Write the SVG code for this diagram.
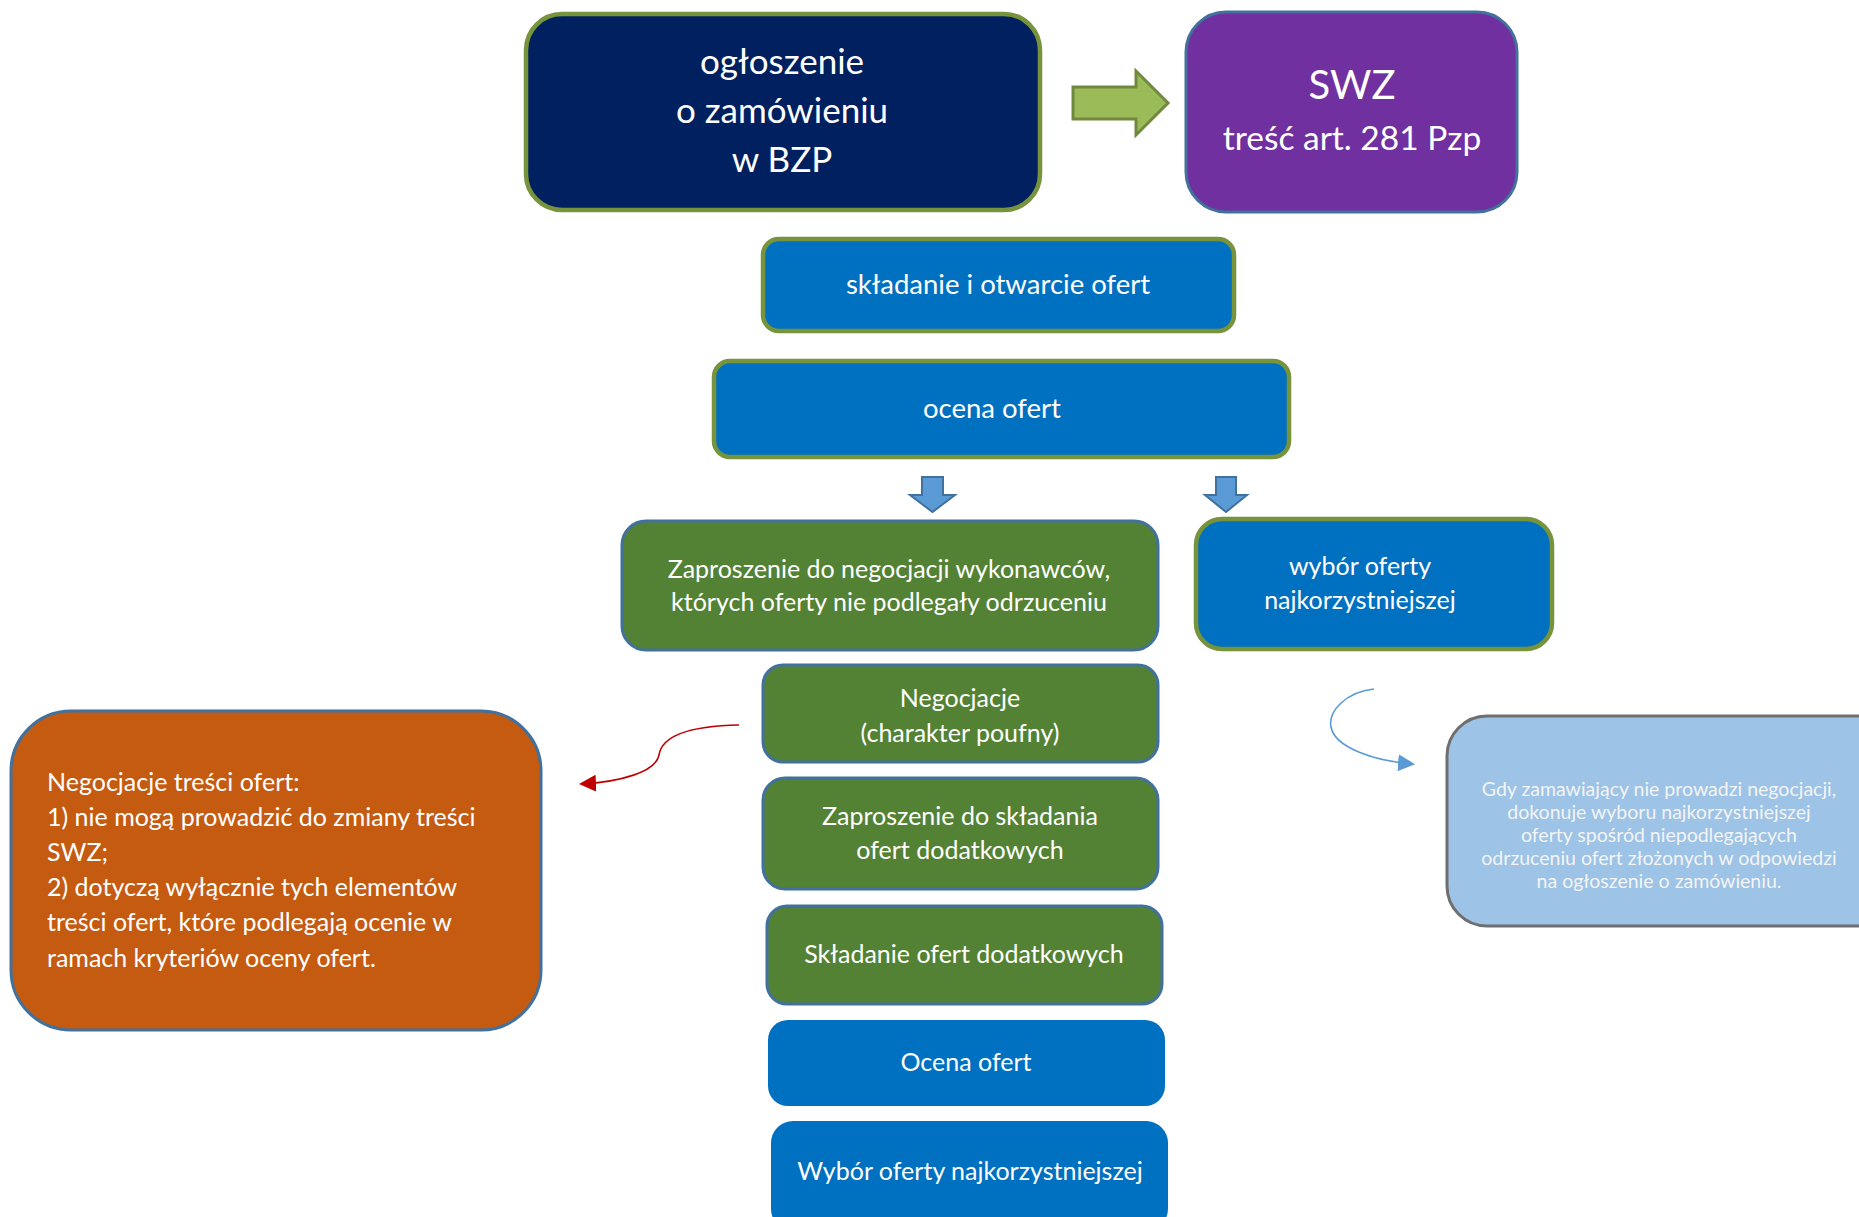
<svg xmlns="http://www.w3.org/2000/svg" width="1859" height="1217" viewBox="0 0 1859 1217">
<style>
text{font-family:Lato,"Liberation Sans","DejaVu Sans",sans-serif;fill:#FFFFFF;}
.c{text-anchor:middle;}
.t24{font-size:25px;}
.t27{font-size:27.5px;}
.ol{stroke:#77933C;stroke-width:4.5;}
.bl{stroke:#41719C;stroke-width:3;}
.blue{fill:#0070C0;}
.green{fill:#548235;}
.note{font-size:19.5px;fill:#F4F4F4;}
</style>
<defs>
<marker id="mRed" markerWidth="17" markerHeight="17" refX="15" refY="8.5" orient="auto" markerUnits="userSpaceOnUse">
<path d="M0,0 L17,8.5 L0,17 Z" fill="#C00000"/>
</marker>
<marker id="mBlue" markerWidth="17" markerHeight="17" refX="15" refY="8.5" orient="auto" markerUnits="userSpaceOnUse">
<path d="M0,0 L17,8.5 L0,17 Z" fill="#5B9BD5"/>
</marker>
</defs>
<rect width="1859" height="1217" fill="#FFFFFF"/>

<g id="connectors">
<path id="arrow-green" d="M1073,87 L1136,87 L1136,71 L1168,103 L1136,135 L1136,119 L1073,119 Z" fill="#9BBB59" stroke="#71893F" stroke-width="3"/>
<path id="arrow-down-1" d="M922,477 L943,477 L943,495 L955,495 L932.5,512 L910,495 L922,495 Z" fill="#5B9BD5" stroke="#41719C" stroke-width="2"/>
<path id="arrow-down-2" d="M1216,477 L1236,477 L1236,495 L1247,495 L1226,512 L1205,495 L1216,495 Z" fill="#5B9BD5" stroke="#41719C" stroke-width="2"/>
<path id="arrow-red" d="M739,725 C690,726 662,735 659,755 C656,772 620,782 581,784" fill="none" stroke="#C00000" stroke-width="1.6" marker-end="url(#mRed)"/>
<path id="arrow-blue" d="M1374,689 C1345,692 1328,712 1331,727 C1335,748 1375,761 1413,764" fill="none" stroke="#5B9BD5" stroke-width="1.6" marker-end="url(#mBlue)"/>
</g>

<g id="n-ogloszenie">
<rect x="526" y="14" width="514" height="196" rx="36" fill="#002060" class="ol"/>
<text class="c" x="782" y="74" font-size="35">ogłoszenie</text>
<text class="c" x="782" y="123" font-size="35">o zamówieniu</text>
<text class="c" x="782" y="172" font-size="35">w BZP</text>
</g>

<g id="n-swz">
<rect x="1186" y="12" width="331" height="200" rx="40" fill="#7030A0" class="bl"/>
<text class="c" x="1352" y="99" font-size="40">SWZ</text>
<text class="c" x="1352" y="150" font-size="33.5">treść art. 281 Pzp</text>
</g>

<g id="n-skladanie">
<rect x="763" y="239" width="471" height="92" rx="16" class="blue ol"/>
<text class="c t27" x="998" y="294">składanie i otwarcie ofert</text>
</g>

<g id="n-ocena">
<rect x="714" y="361" width="575" height="96" rx="16" class="blue ol"/>
<text class="c t27" x="992" y="418">ocena ofert</text>
</g>

<g id="n-zaproszenie">
<rect x="622" y="521" width="536" height="129" rx="24" class="green bl"/>
<text class="c t24" x="889" y="578">Zaproszenie do negocjacji wykonawców,</text>
<text class="c t24" x="889" y="611">których oferty nie podlegały odrzuceniu</text>
</g>

<g id="n-wybor-prawy">
<rect x="1196" y="519" width="356" height="130" rx="26" class="blue ol"/>
<text class="c t24" x="1360" y="575">wybór oferty</text>
<text class="c t24" x="1360" y="609">najkorzystniejszej</text>
</g>

<g id="n-negocjacje">
<rect x="763" y="665" width="395" height="97" rx="20" class="green bl"/>
<text class="c t24" x="960" y="707">Negocjacje</text>
<text class="c t24" x="960" y="742">(charakter poufny)</text>
</g>

<g id="n-zaproszenie-dodatkowe">
<rect x="763" y="778" width="395" height="111" rx="22" class="green bl"/>
<text class="c t24" x="960" y="825">Zaproszenie do składania</text>
<text class="c t24" x="960" y="859">ofert dodatkowych</text>
</g>

<g id="n-skladanie-dodatkowe">
<rect x="767" y="906" width="395" height="98" rx="20" class="green bl"/>
<text class="c t24" x="964" y="963">Składanie ofert dodatkowych</text>
</g>

<g id="n-ocena-2">
<rect x="768" y="1020" width="397" height="86" rx="20" class="blue"/>
<text class="c t24" x="966" y="1071">Ocena ofert</text>
</g>

<g id="n-wybor-dolny">
<rect x="771" y="1121" width="397" height="110" rx="22" class="blue"/>
<text class="c t24" x="970" y="1180">Wybór oferty najkorzystniejszej</text>
</g>

<g id="n-negocjacje-tresci">
<rect x="11" y="711" width="530" height="319" rx="60" fill="#C55A11" class="bl"/>
<text class="t24" x="47" y="791">Negocjacje treści ofert:</text>
<text class="t24" x="47" y="826">1) nie mogą prowadzić do zmiany treści</text>
<text class="t24" x="47" y="861">SWZ;</text>
<text class="t24" x="47" y="896">2) dotyczą wyłącznie tych elementów</text>
<text class="t24" x="47" y="931">treści ofert, które podlegają ocenie w</text>
<text class="t24" x="47" y="967">ramach kryteriów oceny ofert.</text>
</g>

<g id="n-gdy">
<rect x="1447" y="716" width="460" height="210" rx="40" fill="#9DC3E6" stroke="#6F6F6F" stroke-width="3"/>
<text class="c note" x="1659" y="796">Gdy zamawiający nie prowadzi negocjacji,</text>
<text class="c note" x="1659" y="819">dokonuje wyboru najkorzystniejszej</text>
<text class="c note" x="1659" y="842">oferty spośród niepodlegających</text>
<text class="c note" x="1659" y="865">odrzuceniu ofert złożonych w odpowiedzi</text>
<text class="c note" x="1659" y="888">na ogłoszenie o zamówieniu.</text>
</g>
</svg>
